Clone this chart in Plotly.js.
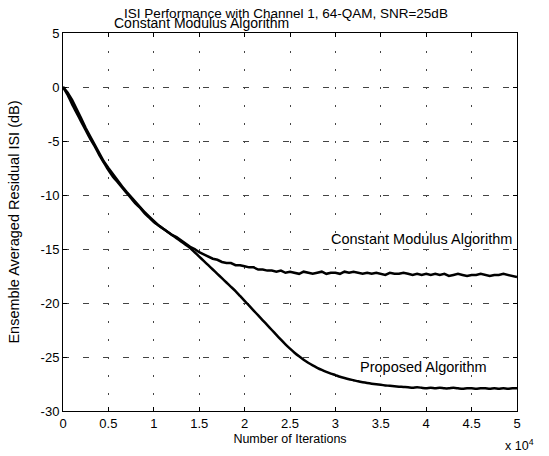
<!DOCTYPE html>
<html>
<head>
<meta charset="utf-8">
<script src="https://cdn.plot.ly/plotly-3.0.1.min.js"></script>
<style>html,body{margin:0;padding:0;background:#fff;}#chart{width:549px;height:456px;}</style>
</head>
<body>
<div id="chart"></div>
<script>
// Iteration index (x axis)
var iterations = [0,500,1000,1500,2000,2500,3000,3500,4000,4500,
  5000,5500,6000,6500,7000,7500,8000,8500,9000,9500,
  10000,10500,11000,11500,12000,12500,13000,13500,14000,14500,
  15000,15500,16000,16500,17000,17500,18000,18500,19000,19500,
  20000,20500,21000,21500,22000,22500,23000,23500,24000,24500,
  25000,25500,26000,26500,27000,27500,28000,28500,29000,29500,
  30000,30500,31000,31500,32000,32500,33000,33500,34000,34500,
  35000,35500,36000,36500,37000,37500,38000,38500,39000,39500,
  40000,40500,41000,41500,42000,42500,43000,43500,44000,44500,
  45000,45500,46000,46500,47000,47500,48000,48500,49000,49500,50000];

// Constant Modulus Algorithm residual ISI (dB)
var cmaISI = [0,-0.5,-1.2,-2.0,-2.9,-3.8,-4.6,-5.4,-6.1,-6.9,
  -7.5,-8.1,-8.7,-9.2,-9.7,-10.2,-10.7,-11.1,-11.6,-12.0,
  -12.4,-12.8,-13.1,-13.4,-13.7,-13.9,-14.2,-14.5,-14.8,-15.0,
  -15.3,-15.5,-15.7,-15.9,-16.0,-16.2,-16.3,-16.3,-16.5,-16.5,
  -16.6,-16.7,-16.7,-16.9,-16.9,-17.0,-17.0,-17.1,-17.0,-17.2,
  -17.1,-17.2,-17.3,-17.1,-17.2,-17.3,-17.2,-17.1,-17.3,-17.2,
  -17.2,-17.3,-17.1,-17.2,-17.1,-17.2,-17.3,-17.2,-17.3,-17.2,
  -17.3,-17.4,-17.2,-17.3,-17.3,-17.2,-17.3,-17.4,-17.3,-17.4,
  -17.3,-17.4,-17.3,-17.4,-17.3,-17.5,-17.4,-17.3,-17.4,-17.5,
  -17.4,-17.4,-17.3,-17.4,-17.5,-17.4,-17.4,-17.3,-17.4,-17.5,-17.6];

// Proposed algorithm residual ISI (dB)
var proposedISI = [0,-0.7,-1.6,-2.4,-3.2,-4.0,-4.8,-5.5,-6.3,-7.0,
  -7.7,-8.3,-8.8,-9.3,-9.8,-10.3,-10.8,-11.2,-11.7,-12.1,
  -12.5,-12.8,-13.1,-13.4,-13.7,-14.0,-14.3,-14.6,-14.9,-15.3,
  -15.7,-16.1,-16.5,-16.9,-17.3,-17.7,-18.1,-18.5,-18.9,-19.35,
  -19.8,-20.25,-20.7,-21.15,-21.6,-22.05,-22.5,-22.95,-23.4,-23.83,
  -24.23,-24.6,-24.94,-25.25,-25.53,-25.78,-26.0,-26.2,-26.38,-26.54,
  -26.68,-26.83,-26.95,-27.06,-27.15,-27.25,-27.33,-27.4,-27.47,-27.53,
  -27.58,-27.63,-27.67,-27.71,-27.75,-27.78,-27.8,-27.85,-27.8,-27.85,
  -27.9,-27.85,-27.9,-27.85,-27.9,-27.9,-27.85,-27.9,-27.95,-27.9,
  -27.9,-27.95,-27.9,-27.9,-27.95,-27.9,-27.95,-27.9,-27.95,-27.9,-27.9];

var xTickVals = [0,5000,10000,15000,20000,25000,30000,35000,40000,45000,50000];
var xTickText = ["0","0.5","1","1.5","2","2.5","3","3.5","4","4.5","5"];
var yTickVals = [5,0,-5,-10,-15,-20,-25,-30];
var yTickText = ["5","0","-5","-10","-15","-20","-25","-30"];

var FONT = "Liberation Sans, Arial, Helvetica, sans-serif";

var traces = [
  {x: iterations, y: cmaISI, type: "scatter", mode: "lines", name: "Constant Modulus Algorithm",
   line: {color: "#000", width: 2.5}},
  {x: iterations, y: proposedISI, type: "scatter", mode: "lines", name: "Proposed Algorithm",
   line: {color: "#000", width: 2.5, shape: "spline", smoothing: 0.6}}
];

var layout = {
  width: 549, height: 456,
  margin: {l: 63, r: 32, t: 33, b: 45},
  paper_bgcolor: "#fff", plot_bgcolor: "#fff",
  showlegend: false,
  font: {family: FONT, size: 12, color: "#000"},
  title: {text: "ISI Performance with Channel 1, 64-QAM, SNR=25dB",
          font: {family: FONT, size: 13.5, color: "#000"},
          x: 286/549, xanchor: "center", xref: "container",
          y: 1 - 13/456, yanchor: "middle", yref: "container"},
  xaxis: {range: [0, 50000], tickvals: xTickVals, ticktext: xTickText,
          ticks: "inside", ticklen: 4, tickcolor: "#000",
          showline: true, linecolor: "#000", linewidth: 1, mirror: "ticks",
          showgrid: true, gridcolor: "#444", gridwidth: 1, griddash: "2px,16px",
          zeroline: false, tickfont: {family: FONT, size: 13, color: "#000"},
          title: {text: "Number of Iterations", font: {family: FONT, size: 12.5, color: "#000"}, standoff: 4}},
  yaxis: {range: [-30, 5], tickvals: yTickVals, ticktext: yTickText,
          ticks: "inside", ticklen: 4, tickcolor: "#000",
          showline: true, linecolor: "#000", linewidth: 1, mirror: "ticks",
          showgrid: true, gridcolor: "#444", gridwidth: 1, griddash: "6px,14px",
          zeroline: false, tickfont: {family: FONT, size: 13, color: "#000"},
          title: {text: "Ensemble Averaged Residual ISI (dB)", font: {family: FONT, size: 14.5, color: "#000"}, standoff: 17}},
  annotations: [
    {text: "Constant Modulus Algorithm", xref: "paper", yref: "paper",
     x: (201 - 63) / 454, y: 1, xanchor: "center", yanchor: "middle", yshift: 10, showarrow: false,
     font: {family: FONT, size: 14, color: "#000"}},
    {text: "Constant Modulus Algorithm", x: 39500, y: -14.1, xref: "x", yref: "y",
     showarrow: false, xanchor: "center", yanchor: "middle",
     font: {family: FONT, size: 14.5, color: "#000"}},
    {text: "Proposed Algorithm", x: 39700, y: -25.9, xref: "x", yref: "y",
     showarrow: false, xanchor: "center", yanchor: "middle",
     font: {family: FONT, size: 14.5, color: "#000"}},
    {text: "x 10<sup>4</sup>", xref: "paper", yref: "paper", x: 1, y: 0,
     xanchor: "center", yanchor: "top", xshift: 2, yshift: -24, showarrow: false,
     font: {family: FONT, size: 12.5, color: "#000"}}
  ]
};

Plotly.newPlot("chart", traces, layout, {displayModeBar: false, staticPlot: true});
</script>
</body>
</html>
